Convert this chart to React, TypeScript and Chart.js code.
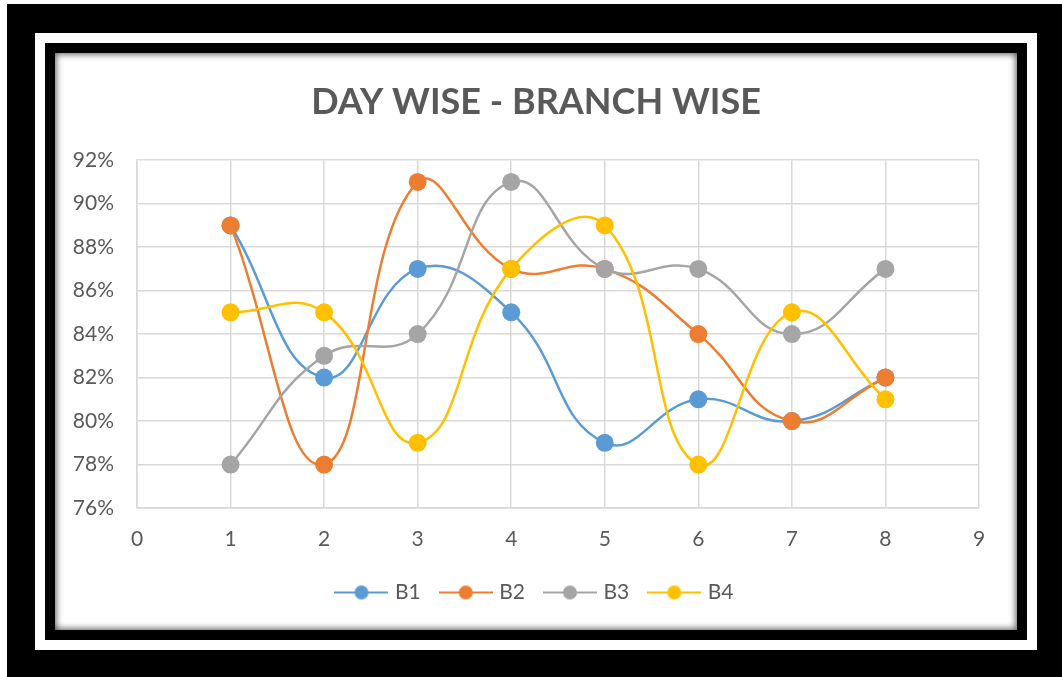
import React, { useEffect, useRef } from "react";
import { Chart, registerables } from "chart.js";

Chart.register(...registerables);

const days = [1, 2, 3, 4, 5, 6, 7, 8];
const seriesNames = ["B1", "B2", "B3", "B4"];
const b1 = [89, 82, 87, 85, 79, 81, 80, 82];
const b2 = [89, 78, 91, 87, 87, 84, 80, 82];
const b3 = [78, 83, 84, 91, 87, 87, 84, 87];
const b4 = [85, 85, 79, 87, 89, 78, 85, 81];
const seriesValues = [b1, b2, b3, b4];
const colors = ["#5B9BD5", "#ED7D31", "#A5A5A5", "#FFC000"];
const titleText = "DAY WISE - BRANCH WISE";
const yMin = 76;
const yMax = 92;
const yStep = 2;
const xMin = 0;
const xMax = 9;

const FONT = "Lato, 'Open Sans', sans-serif";
const TEXT = "#595959";

function legendSymbol(color: string): HTMLCanvasElement {
  const c = document.createElement("canvas");
  c.width = 54;
  c.height = 16;
  const ctx = c.getContext("2d")!;
  ctx.strokeStyle = color;
  ctx.lineWidth = 2;
  ctx.beginPath();
  ctx.moveTo(0, 8);
  ctx.lineTo(54, 8);
  ctx.stroke();
  ctx.fillStyle = color;
  ctx.beginPath();
  ctx.arc(27, 8, 7, 0, Math.PI * 2);
  ctx.fill();
  return c;
}

function ChartBox() {
  const ref = useRef<HTMLCanvasElement | null>(null);
  useEffect(() => {
    if (!ref.current) return;
    const symbols = colors.map(legendSymbol);
    const chart = new Chart(ref.current, {
      type: "line",
      data: {
        datasets: seriesNames.map((name, i) => ({
          label: name,
          data: days.map((d, j) => ({ x: d, y: seriesValues[i][j] })),
          borderColor: colors[i],
          backgroundColor: colors[i],
          pointBackgroundColor: colors[i],
          pointBorderColor: colors[i],
          borderWidth: 2.5,
          pointRadius: 9,
          pointBorderWidth: 0,
          tension: 0.45,
          fill: false,
          order: seriesNames.length - i,
        })),
      },
      options: {
        animation: false,
        responsive: false,
        maintainAspectRatio: false,
        layout: { padding: { top: 0, left: 0, right: 0, bottom: 17 } },
        plugins: {
          tooltip: { enabled: false },
          title: {
            display: true,
            text: titleText,
            color: TEXT,
            font: { family: FONT, size: 36, weight: "bold" },
            padding: { top: 28, bottom: 36 },
          },
          legend: {
            display: true,
            position: "bottom",
            labels: {
              usePointStyle: true,
              pointStyleWidth: 46,
              boxHeight: 16,
              padding: 22,
              color: TEXT,
              font: { family: FONT, size: 21 },
              generateLabels: (ch: any) =>
                ch.data.datasets.map((ds: any, i: number) => ({
                  text: ds.label,
                  pointStyle: symbols[i],
                  fillStyle: colors[i],
                  strokeStyle: colors[i],
                  fontColor: TEXT,
                  lineWidth: 0,
                  hidden: false,
                  datasetIndex: i,
                })),
            },
          },
        },
        scales: {
          x: {
            type: "linear",
            min: xMin,
            max: xMax,
            ticks: {
              stepSize: 1,
              padding: 19,
              color: TEXT,
              font: { family: FONT, size: 21 },
            },
            grid: { color: "#D9D9D9", lineWidth: 1.5, drawTicks: false },
            border: { color: "#D9D9D9", width: 1.5 },
            afterFit: (s: any) => {
              s.height = 52;
            },
          },
          y: {
            type: "linear",
            min: yMin,
            max: yMax,
            ticks: {
              stepSize: yStep,
              padding: 23,
              color: TEXT,
              font: { family: FONT, size: 21 },
              callback: (v: any) => v + "%",
            },
            grid: { color: "#D9D9D9", lineWidth: 1.5, drawTicks: false },
            border: { color: "#D9D9D9", width: 1.5 },
            afterFit: (s: any) => {
              s.width = 82;
            },
          },
          yRight: {
            type: "linear",
            position: "right",
            display: true,
            ticks: { display: false },
            grid: { display: false, drawTicks: false },
            border: { display: false },
            afterFit: (s: any) => {
              s.width = 38;
            },
          },
        },
      },
    } as any);
    return () => chart.destroy();
  }, []);
  return <canvas ref={ref} width={962} height={577} style={{ display: "block" }} />;
}

export default function App() {
  return (
    <div style={{ position: "fixed", left: 0, top: 0, width: 1062, height: 677, background: "#fff", overflow: "hidden" }}>
      <div style={{ position: "absolute", left: 7, top: 4, right: 0, bottom: 0, background: "#000" }} />
      <div style={{ position: "absolute", left: 35, top: 33, width: 1002, height: 617, background: "#fff" }} />
      <div style={{ position: "absolute", left: 45, top: 43, width: 982, height: 597, background: "#000" }} />
      <div
        style={{
          position: "absolute",
          left: 55,
          top: 53,
          width: 962,
          height: 577,
          background: "#fff",
          boxShadow: "inset 2px 2px 6px rgba(0,0,0,0.45), inset -2px -2px 6px rgba(0,0,0,0.45)",
        }}
      >
        <ChartBox />
      </div>
    </div>
  );
}
